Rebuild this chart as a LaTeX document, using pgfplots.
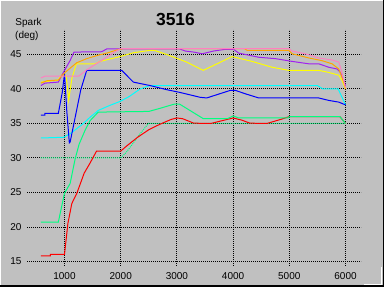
\documentclass[border=0pt]{standalone}
\usepackage{fontspec}
\setmainfont{Liberation Sans}
\usepackage{pgfplots}
\pgfplotsset{compat=1.18}
\definecolor{bg}{RGB}{192,192,192}
\definecolor{cred}{RGB}{255,0,0}
\definecolor{cgreen}{RGB}{0,255,128}
\definecolor{cdot}{RGB}{0,255,128}
\definecolor{ccyan}{RGB}{0,255,255}
\definecolor{cblue}{RGB}{0,0,255}
\definecolor{cyellow}{RGB}{255,255,0}
\definecolor{cpurple}{RGB}{160,32,240}
\definecolor{corange}{RGB}{255,165,0}
\definecolor{cpink}{RGB}{255,128,192}
\begin{document}
\begin{tikzpicture}[x=1bp,y=1bp]
\fill[bg] (0,0) rectangle (384,287);
\useasboundingbox (0,0) rectangle (384,287);
\begin{axis}[at={(27bp,21bp)}, anchor=south west, scale only axis,
  width=334bp, height=236bp,
  xmin=332.7, xmax=6275.8, ymin=14.348, ymax=48.551,
  axis line style={draw=none}, major tick length=0pt,
  xtick={1000,2000,3000,4000,5000,6000},
  ytick={15,20,25,30,35,40,45},
  grid=major,
  grid style={black, line width=1bp, dash pattern=on 1bp off 1bp},
  tick label style={font=\fontsize{10bp}{12bp}\selectfont},
  /pgf/number format/assume math mode=true,
  /pgf/number format/1000 sep={},
  xticklabel style={yshift=-2.5bp},
  yticklabel style={xshift=-2bp},
  every axis plot/.append style={no marks, line width=1bp},
]
% dotted green
\addplot[cdot, dash pattern=on 1bp off 1bp] coordinates {(580,30) (2000,30) (2107,30.9) (2344,33.5) (2492,35) (6000,35)};
% red
\addplot[cred] coordinates {(580,15.8) (750,15.8) (750,16.05) (1000,16.05) (1060,20.5) (1130,23.4) (1220,24.9) (1350,27.8) (1450,29.2) (1570,31) (2000,31) (2100,31.7) (2300,33) (2500,34.1) (2700,34.9) (2900,35.6) (3000,35.8) (3100,35.7) (3300,35.05) (3600,35.0) (3900,35.6) (4000,35.8) (4150,35.5) (4300,35.05) (4600,35.0) (4850,35.6) (5000,36.0) (5900,36.0) (6000,35.0)};
% green
\addplot[cgreen] coordinates {(580,20.7) (890,20.7) (1000,24.9) (1100,26.3) (1190,29.9) (1260,32) (1365,34) (1454,35.4) (1600,36.65) (2500,36.75) (2700,37.2) (2950,37.8) (3050,37.8) (3250,36.8) (3470,35.7) (3900,35.7) (4000,36.1) (4100,35.8) (4980,35.8) (5000,36.0) (5900,36.0) (6000,35.0)};
% cyan
\addplot[ccyan] coordinates {(580,32.9) (980,33.0) (1098,33.5) (1217,34.25) (1335,35.0) (1454,35.9) (1602,36.9) (1800,37.6) (1988,38.2) (2150,38.9) (2344,40.0) (2520,40.5) (5500,40.5) (5600,40.0) (5870,40.0) (6000,37.7)};
% yellow
\addplot[cyellow] coordinates {(580,41.0) (890,41.3) (960,42.2) (1030,41.9) (1075,38.4) (1130,41.5) (1210,43.65) (1543,43.65) (1632,44.0) (1988,44.7) (2225,45.25) (2522,45.6) (2600,45.6) (2819,45.0) (3175,43.9) (3470,42.7) (3982,44.7) (4338,44.0) (4694,43.15) (4990,42.7) (5524,42.7) (5703,42.4) (5880,42.0) (5940,41.2) (6000,40.0)};
% blue
\addplot[cblue] coordinates {(580,36.2) (650,36.2) (650,36.45) (890,36.45) (960,39.5) (1000,42.2) (1040,36.9) (1086,32.2) (1100,32.3) (1290,39.9) (1395,42.7) (2018,42.7) (2225,41.0) (2522,40.5) (2819,39.9) (3056,39.5) (3412,38.8) (3530,38.7) (3950,39.8) (4040,39.8) (4220,39.3) (4457,38.7) (5524,38.7) (5700,38.35) (5880,38.1) (6000,37.7)};
% purple
\addplot[cpurple] coordinates {(580,40.5) (653,40.85) (890,41.0) (980,42.4) (1098,44.1) (1170,45.35) (1662,45.4) (1750,45.8) (3050,45.8) (3150,45.5) (3300,45.35) (3450,45.1) (3650,45.5) (3860,45.75) (4010,45.75) (4100,45.2) (4457,44.6) (4754,44.4) (5050,44.0) (5347,43.65) (5524,43.65) (5703,43.15) (5851,42.9) (5910,42.4) (5970,41.2) (6000,40.5)};
% orange
\addplot[corange] coordinates {(580,40.85) (690,41.2) (890,41.3) (1009,42.4) (1157,43.4) (1217,43.8) (1395,44.4) (1600,44.9) (1751,45.2) (1950,45.7) (2050,45.85) (4200,45.85) (4250,45.6) (4990,45.6) (5050,45.1) (5347,44.5) (5584,44.1) (5762,43.65) (5880,42.9) (5970,41.0) (6000,40.0)};
% pink
\addplot[cpink] coordinates {(580,41.6) (650,41.85) (1250,41.85) (1400,42.8) (1573,43.7) (1750,44.6) (1900,45.4) (2000,45.85) (4990,45.85) (5050,45.5) (5287,45.1) (5524,44.5) (5762,44.2) (5880,43.9) (5927,42.7) (5970,41.2) (6000,40.2)};
\end{axis}
\draw[white,line width=1bp] (0.5,0) -- (0.5,286.5) -- (384,286.5);
\draw[black,line width=2bp] (0,1) -- (384,1);
\draw[black,line width=1bp] (383.5,0) -- (383.5,287);
\draw[white,line width=1bp] (364,2.5) -- (381.5,2.5) -- (381.5,20);
\node[font=\fontsize{17.5bp}{20bp}\selectfont\bfseries] at (175.5,268) {3516};
\node[anchor=base west,inner sep=0pt,font=\fontsize{10bp}{12bp}\selectfont] at (15.3,261.3) {Spark};
\node[anchor=base west,inner sep=0pt,font=\fontsize{10bp}{12bp}\selectfont] at (15,249) {(deg)};
\end{tikzpicture}
\end{document}
